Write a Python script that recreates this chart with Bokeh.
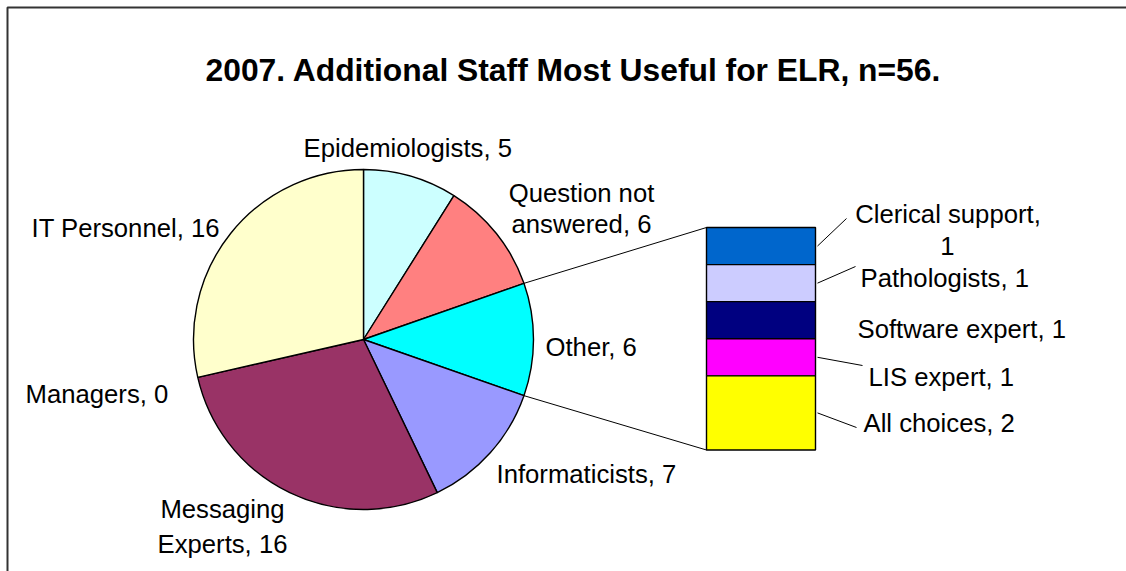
import math
from bokeh.plotting import figure
from bokeh.models import Range1d
from bokeh.core.properties import value
from bokeh.embed import file_html
from bokeh.resources import INLINE

# ---------------- data ----------------
title_text = "2007. Additional Staff Most Useful for ELR, n=56."
pie_labels = ["Epidemiologists", "Question not answered", "Other", "Informaticists",
              "Messaging Experts", "Managers", "IT Personnel"]
pie_values = [5, 6, 6, 7, 16, 0, 16]
pie_colors = ["#CCFFFF", "#FF8080", "#00FFFF", "#9999FF", "#993366", "#993366", "#FFFFCC"]
exploded = "Other"
bar_labels = ["Clerical support", "Pathologists", "Software expert", "LIS expert", "All  choices"]
bar_values = [1, 1, 1, 1, 2]
bar_colors = ["#0066CC", "#CCCCFF", "#000080", "#FF00FF", "#FFFF00"]

# ---------------- layout ----------------
W, H = 1126, 571
def sx(X):  # page x -> data x
    return X
def sy(Y):  # page y -> data y (y up)
    return H - Y

FONT = value("Liberation Sans")
LBL = "25.7px"

p = figure(width=W, height=H, x_range=Range1d(0, W), y_range=Range1d(0, H),
           output_backend="svg", toolbar_location=None, min_border=0,
           outline_line_color=None, background_fill_color="white",
           border_fill_color="white")
p.axis.visible = False
p.xgrid.visible = False
p.ygrid.visible = False

# frame (left/top edges visible in the reference)
p.line(x=[sx(7), sx(7), W], y=[0, sy(7), sy(7)], line_color="#333333", line_width=2)

# title
p.text(x=[sx(573)], y=[sy(69)], text=[title_text], text_font=FONT,
       text_font_size="31.8px", text_font_style="bold", text_align="center",
       text_baseline="alphabetic", text_color="black")

# ---------------- pie ----------------
cx, cy, r = sx(363), sy(339), 170
total = sum(pie_values)
cum = 0
bounds = {}
for lab, v, col in zip(pie_labels, pie_values, pie_colors):
    c0, c1 = cum, cum + v
    cum = c1
    bounds[lab] = (c0, c1)
    if v == 0:
        continue
    start = math.pi / 2 - 2 * math.pi * c1 / total
    end = math.pi / 2 - 2 * math.pi * c0 / total
    p.wedge(x=[cx], y=[cy], radius=[r], start_angle=[start], end_angle=[end],
            direction="anticlock", fill_color=col, line_color="black", line_width=1.4)

# ---------------- bar of pie ----------------
bx0, bx1 = sx(706), sx(815)
btop, bbot = sy(227), sy(449.5)
unit = (btop - bbot) / sum(bar_values)
top = btop
mids = []
for lab, v, col in zip(bar_labels, bar_values, bar_colors):
    bottom = top - v * unit
    p.quad(left=[bx0], right=[bx1], top=[top], bottom=[bottom],
           fill_color=col, line_color="black", line_width=1.4)
    mids.append((top + bottom) / 2)
    top = bottom

# connector lines from exploded slice edges to the bar
c0, c1 = bounds[exploded]
for c, yb in ((c0, btop), (c1, bbot)):
    th = 2 * math.pi * c / total
    p.line(x=[cx + r * math.sin(th), bx0], y=[cy + r * math.cos(th), yb],
           line_color="black", line_width=1)

# ---------------- labels ----------------
def txt(lines, align):
    for (X, Y, s) in lines:
        p.text(x=[sx(X)], y=[sy(Y)], text=[s], text_font=FONT, text_font_size=LBL,
               text_align=align, text_baseline="alphabetic", text_color="black")

pv = dict(zip(pie_labels, pie_values))
bv = dict(zip(bar_labels, bar_values))

txt([(303, 147, f"Epidemiologists, {pv['Epidemiologists']}")], "left")
txt([(581, 192, "Question not"), (581, 223.5, f"answered, {pv['Question not answered']}")], "center")
txt([(545, 346, f"Other, {pv['Other']}")], "left")
txt([(496, 473.5, f"Informaticists, {pv['Informaticists']}")], "left")
txt([(222, 508, "Messaging"), (222, 543, f"Experts, {pv['Messaging Experts']}")], "center")
txt([(25, 393, f"Managers, {pv['Managers']}")], "left")
txt([(31, 227.5, f"IT Personnel, {pv['IT Personnel']}")], "left")

txt([(947.5, 213.5, "Clerical support,"), (947, 245, f"{bv['Clerical support']}")], "center")
txt([(860, 277, f"Pathologists, {bv['Pathologists']}")], "left")
txt([(857, 328.5, f"Software expert, {bv['Software expert']}")], "left")
txt([(868, 376, f"LIS expert, {bv['LIS expert']}")], "left")
txt([(863, 422.5, f"All  choices, {bv['All  choices']}")], "left")

# leader lines from bar segments to labels
leader_ends = [(846, 218), (855, 266), None, (862, 365), (856, 427)]
for mid, end in zip(mids, leader_ends):
    if end is None:
        continue
    p.line(x=[bx1 + 2, sx(end[0])], y=[mid, sy(end[1])], line_color="black", line_width=1)

open("out.html", "w").write(file_html(p, INLINE))
